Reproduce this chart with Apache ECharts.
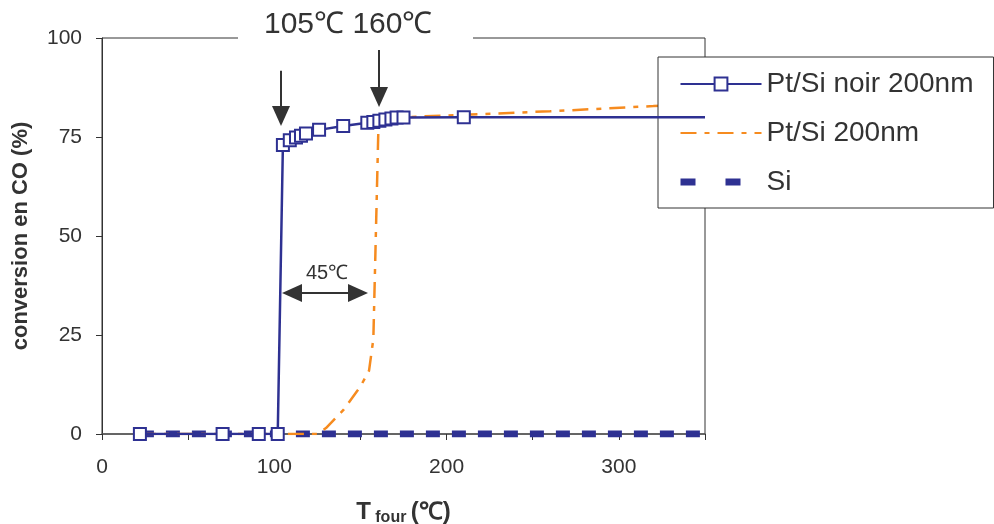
<!DOCTYPE html>
<html><head><meta charset="utf-8">
<script src="https://cdn.jsdelivr.net/npm/echarts@6/dist/echarts.min.js"></script>
<style>html,body{margin:0;padding:0;background:#fff}#c{width:994px;height:524px}</style>
</head><body><div id="c"></div>
<script>
// ---- data ----
const noirX = [22, 70, 91, 102, 105, 109, 112.6, 115.5, 118.4, 126, 140, 154, 157.5, 161, 164.5, 168, 171, 175, 210, 350];
const noirY = [0, 0, 0, 0, 73, 74.2, 74.9, 75.3, 75.9, 76.8, 77.8, 78.6, 78.8, 79.1, 79.4, 79.7, 79.9, 79.9, 80, 80];
const ptX = [22, 70, 91, 102, 110, 125, 130, 140, 150, 155, 157.5, 160.5, 165, 175, 210, 260, 320, 350];
const ptY = [0, 0, 0, 0, 0, 0, 1.5, 6, 12, 16, 24, 78.5, 79.5, 80, 80.6, 81.5, 82.8, 83.5];
const siX = [22, 40, 55, 70, 80, 91, 102, 125, 140, 175, 210, 250, 300, 350];
const siY = [0, 0, 0, 0, 0, 0, 0, 0, 0, 0, 0, 0, 0, 0];
const xTicks = [0, 100, 200, 300];
const yTicks = [0, 25, 50, 75, 100];
const seriesNames = ['Pt/Si noir 200nm', 'Pt/Si 200nm', 'Si'];
const topNote = '105\u2103 160\u2103';
const gapNote = '45\u2103';
const arrowDown1 = [[103.9, 91.7], [103.9, 80.3]];
const arrowDown2 = [[160.8, 97.0], [160.8, 85.1]];
const arrowGap = [[110.3, 35.6], [148.6, 35.6]];
const gapNotePos = [130.6, 40.6];

const BLUE = '#2e3192', ORANGE = '#f68b1f', INK = '#333333';
const FONT = '"Liberation Sans", Arial, sans-serif';

const pair = (xs, ys) => xs.map((x, i) => [x, ys[i]]);
const noirData = pair(noirX, noirY).map((p, i, a) => i === a.length - 1 ? {value: p, symbol: 'none'} : p);

const chart = echarts.init(document.getElementById('c'), null, {renderer: 'canvas'});
const arrowStyle = {color: INK, width: 2, type: 'solid'};
chart.setOption({
  animation: false,
  textStyle: {fontFamily: FONT},
  grid: {left: 102, right: 289, top: 38, bottom: 90, containLabel: false, outerBoundsMode: 'none',
    show: true, borderColor: INK, borderWidth: 1, backgroundColor: 'transparent'},
  xAxis: {
    type: 'value', min: 0, max: 350, interval: 50,
    axisLine: {lineStyle: {color: '#555', width: 1.5}},
    axisTick: {show: true, inside: false, length: 6, lineStyle: {color: INK}},
    splitLine: {show: false},
    axisLabel: {fontSize: 21, color: INK, margin: 23, fontFamily: FONT,
      formatter: v => xTicks.includes(v) ? String(v) : ''},
    name: '{b|T}{s| four }{b|(\u2103)}', nameLocation: 'middle', nameGap: 65,
    nameTextStyle: {rich: {
      b: {fontSize: 24, fontWeight: 'bold', color: INK, fontFamily: FONT},
      s: {fontSize: 16, fontWeight: 'bold', color: INK, fontFamily: FONT, padding: [11, 0, 0, 0]}
    }}
  },
  yAxis: {
    type: 'value', min: 0, max: 100, interval: 25,
    axisLine: {show: true, lineStyle: {color: INK, width: 1}},
    axisTick: {show: true, length: 6, lineStyle: {color: INK}},
    splitLine: {show: false},
    axisLabel: {fontSize: 21, color: INK, margin: 20, fontFamily: FONT,
      formatter: v => yTicks.includes(v) ? String(v) : ''},
    name: 'conversion en CO (%)', nameLocation: 'middle', nameGap: 70, nameRotate: 90,
    nameTextStyle: {fontSize: 22, fontWeight: 'bold', color: INK, fontFamily: FONT}
  },
  legend: {
    left: 658, top: 57, orient: 'vertical',
    backgroundColor: '#fff', borderColor: INK, borderWidth: 1, borderRadius: 0,
    padding: [13, 20, 12, 19], itemGap: 21, itemWidth: 81, itemHeight: 16,
    textStyle: {fontSize: 28, color: INK, fontFamily: FONT},
    data: [
      {name: seriesNames[0]},
      {name: seriesNames[1], itemStyle: {opacity: 0}},
      {name: seriesNames[2], itemStyle: {opacity: 0}, lineStyle: {width: 7, type: [15, 30]}}
    ]
  },
  series: [
    {
      name: seriesNames[2], type: 'line', data: pair(siX, siY), symbol: 'none', z: 2,
      lineStyle: {color: BLUE, width: 7, type: [14, 12]}, itemStyle: {color: BLUE}
    },
    {
      name: seriesNames[1], type: 'line', data: pair(ptX, ptY), symbol: 'none', z: 3,
      lineStyle: {color: ORANGE, width: 2.5, type: [16, 8, 5, 8]}, itemStyle: {color: ORANGE}
    },
    {
      name: seriesNames[0], type: 'line', data: noirData, z: 4,
      symbol: 'rect', symbolSize: 12,
      lineStyle: {color: BLUE, width: 2.5}, itemStyle: {color: '#fff', borderColor: BLUE, borderWidth: 2}
    },
    {
      name: 'annotations', type: 'line', data: [], z: 5,
      markLine: {
        silent: true, animation: false, label: {show: false},
        symbol: ['none', 'triangle'], symbolSize: [18, 20],
        lineStyle: arrowStyle, itemStyle: {color: INK},
        data: [
          [{coord: arrowDown1[0], symbol: 'none'}, {coord: arrowDown1[1], symbol: 'triangle'}],
          [{coord: arrowDown2[0], symbol: 'none'}, {coord: arrowDown2[1], symbol: 'triangle'}],
          [{coord: arrowGap[0], symbol: 'triangle'}, {coord: arrowGap[1], symbol: 'triangle'}]
        ]
      }
    }
  ]
});

const gp = chart.convertToPixel({gridIndex: 0}, gapNotePos);
chart.setOption({
  graphic: [
    {type: 'rect', left: 238, top: 8, shape: {width: 235, height: 42}, style: {fill: '#fff'}, z: 100},
    {type: 'text', left: 264, top: 10, z: 101,
      style: {text: topNote, font: '30px "Liberation Sans", Arial, sans-serif', fill: INK}},
    {type: 'text', x: gp[0], y: gp[1], z: 101,
      style: {text: gapNote, font: '20px "Liberation Sans", Arial, sans-serif', fill: INK, align: 'center', verticalAlign: 'middle'}}
  ]
});
</script></body></html>
